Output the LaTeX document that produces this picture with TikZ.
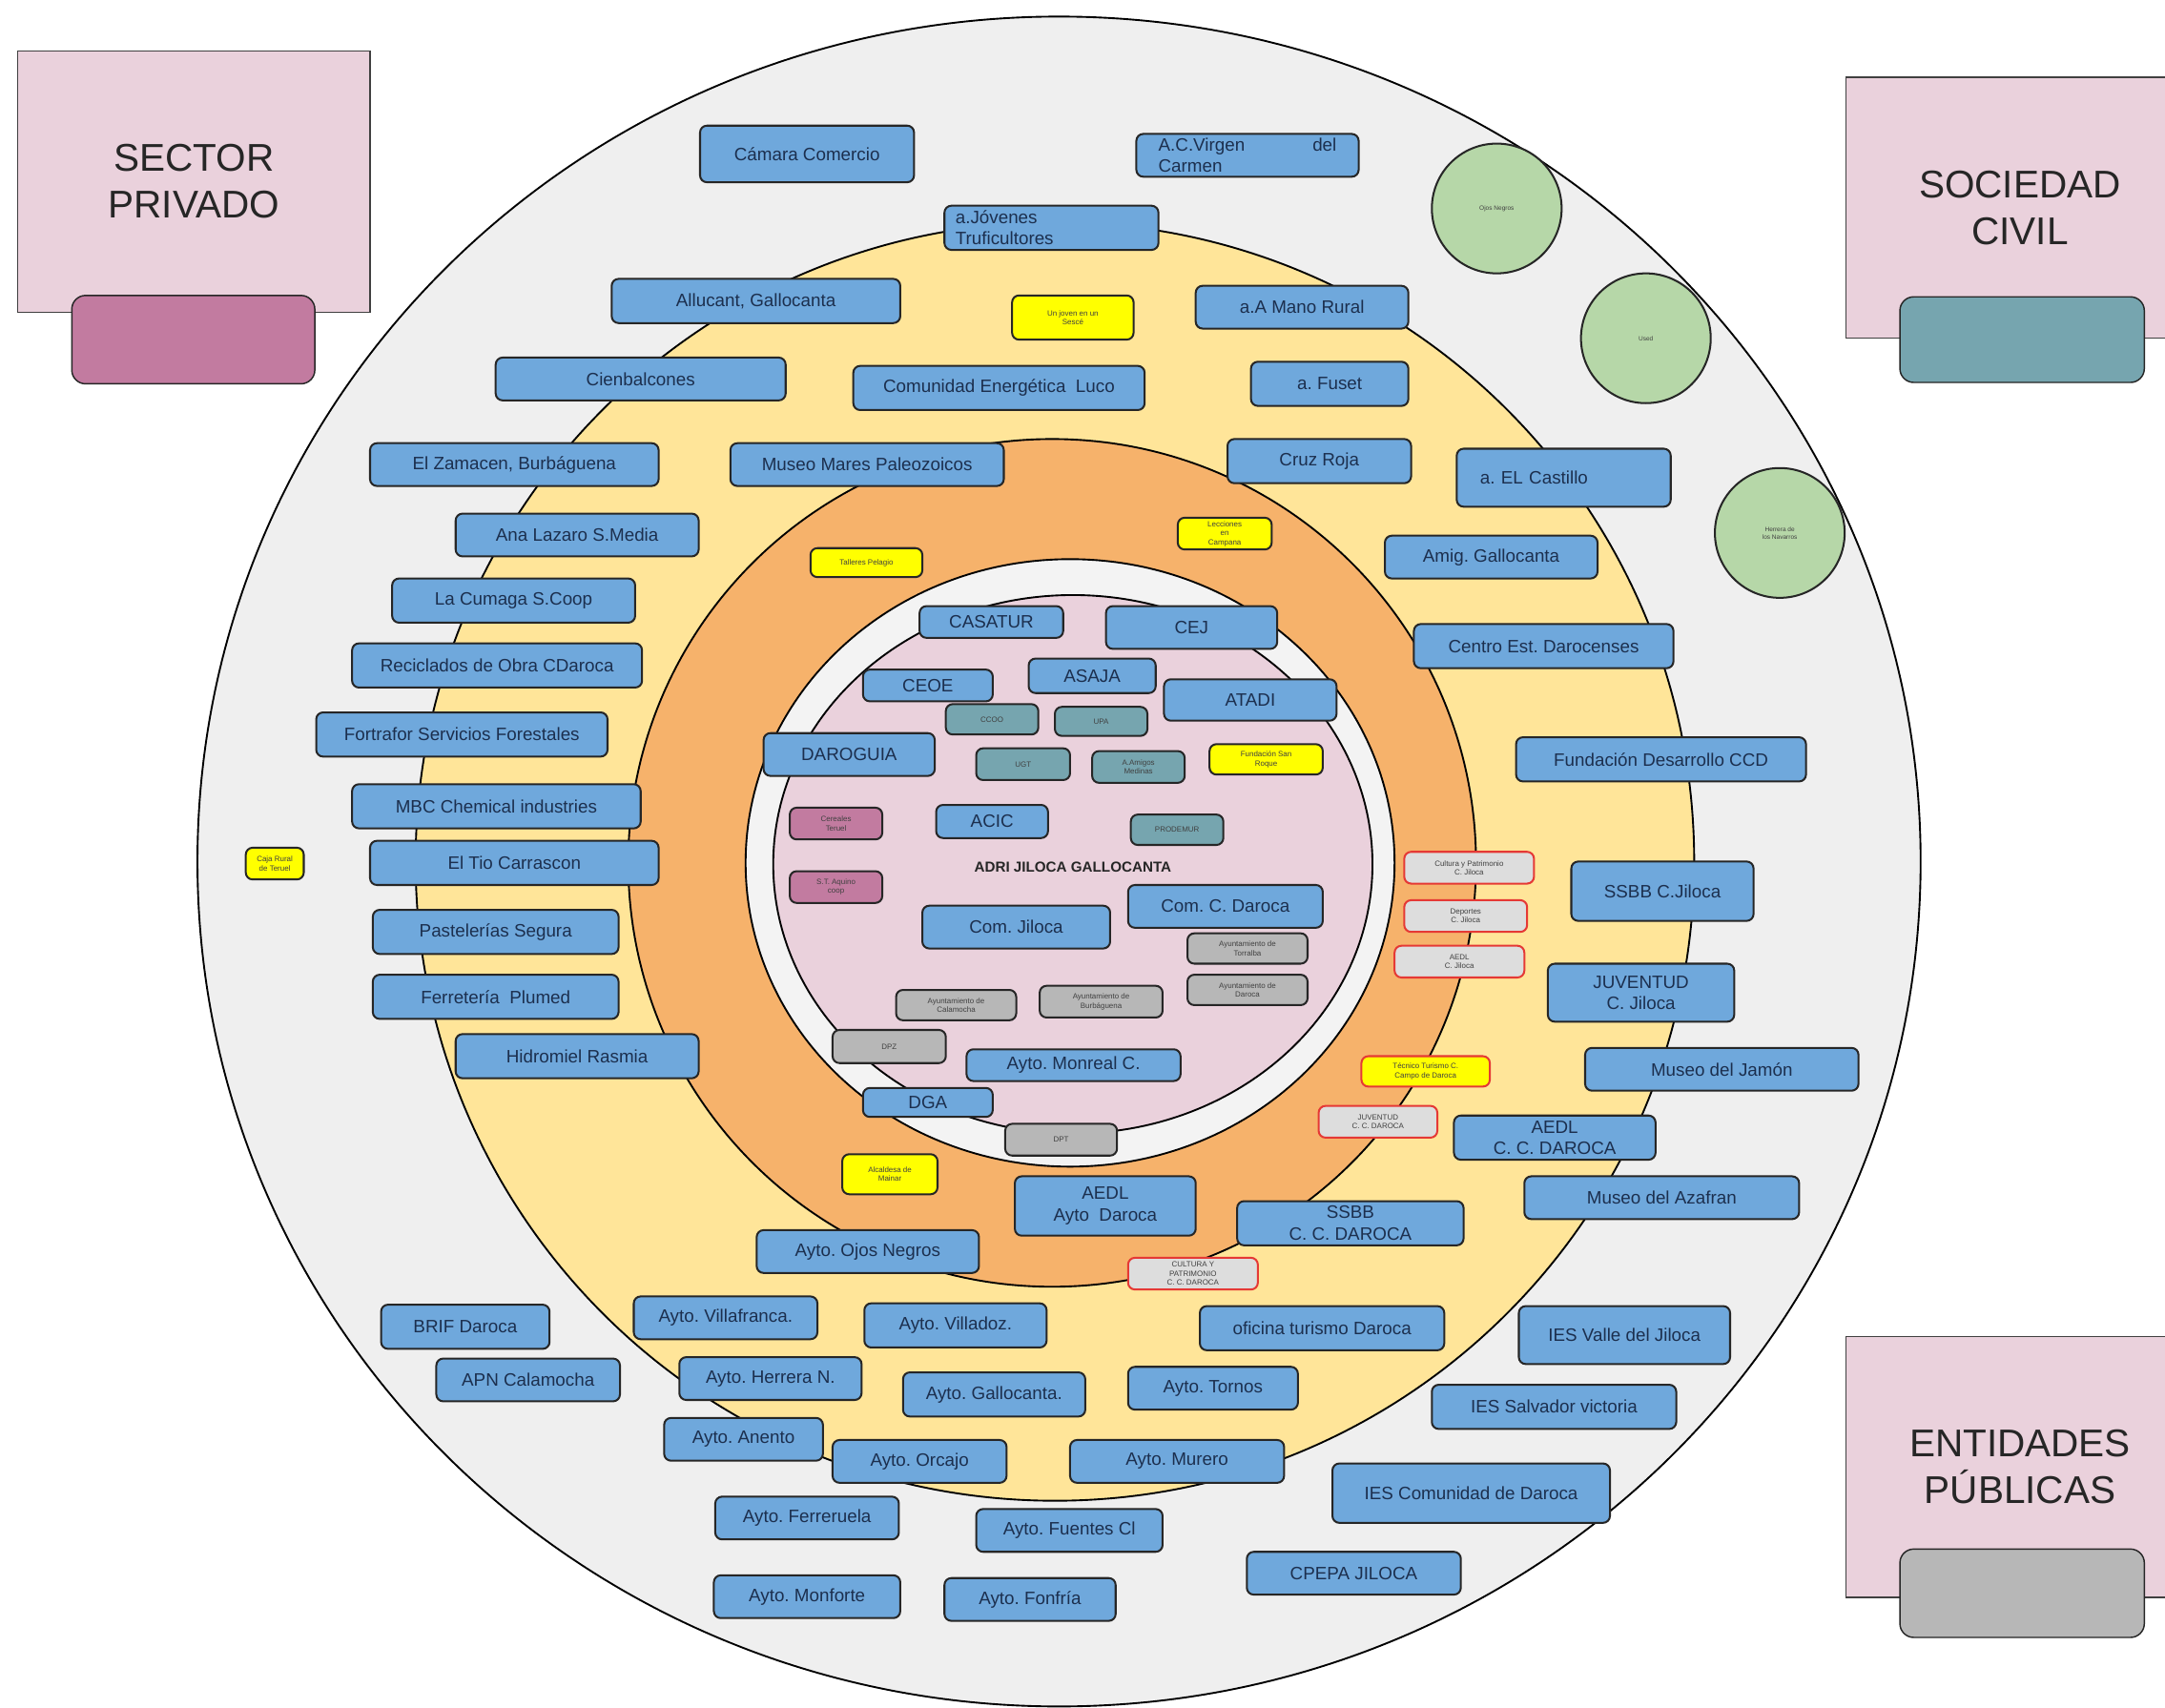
\documentclass[tikz,border=0pt]{standalone}
\usepackage{fontspec}
\setmainfont{Liberation Sans}
\frenchspacing
\definecolor{outerc}{HTML}{EFEFEF}
\definecolor{yellowring}{HTML}{FFE599}
\definecolor{orangering}{HTML}{F6B26B}
\definecolor{whitering}{HTML}{F3F3F3}
\definecolor{pinkc}{HTML}{EAD1DC}
\definecolor{bluef}{HTML}{6FA8DC}
\definecolor{bluet}{HTML}{1C2F4E}
\definecolor{tealf}{HTML}{76A5AF}
\definecolor{mauvef}{HTML}{C27BA0}
\definecolor{grayf}{HTML}{B7B7B7}
\definecolor{redf}{HTML}{DDDDDD}
\definecolor{redb}{HTML}{E53935}
\definecolor{greenf}{HTML}{B6D7A8}
\definecolor{yellowf}{HTML}{FFFF00}
\definecolor{legendf}{HTML}{EAD1DC}
\tikzset{
 ring/.style={draw=black, line width=1.3pt},
 boxbase/.style={draw=black!85, line width=1.4pt, rounded corners=5pt, inner sep=0pt, outer sep=0pt, align=center},
 bluebox/.style={boxbase, fill=bluef, text=bluet, font=\fontsize{13}{15.5}\selectfont},
 smallfont/.style={font=\fontsize{5.5}{6.5}\selectfont},
 tealbox/.style={boxbase, fill=tealf, text=black!75, smallfont},
 yellowbox/.style={boxbase, fill=yellowf, text=black!75, smallfont},
 mauvebox/.style={boxbase, fill=mauvef, text=black!75, smallfont},
 graybox/.style={boxbase, fill=grayf, text=black!75, smallfont},
 redbox/.style={boxbase, draw=redb, fill=redf, text=black!75, smallfont},
 tecbox/.style={boxbase, draw=redb, fill=yellowf, text=black!75, smallfont},
 greencirc/.style={circle, draw=black!85, line width=1.4pt, fill=greenf, minimum size=94pt, inner sep=0pt, align=center, font=\fontsize{4.5}{5.5}\selectfont, text=black!75},
 legend/.style={draw=black!75, line width=0.8pt, fill=legendf, inner sep=0pt, align=center, font=\fontsize{28}{34}\selectfont, text=black!85},
 tabbox/.style={draw=black!85, line width=1pt, rounded corners=10pt, inner sep=0pt},
}
\newcommand{\boxat}[7]{\node[#1, minimum width={(#4)-(#2)}, minimum height={(#5)-(#3)}] (#6) at ({((#2)+(#4))/2},{((#3)+(#5))/2}) {#7};}
\begin{document}
\begin{tikzpicture}[x=1pt,y=-1pt]
\useasboundingbox (0,0) rectangle (1568,1237);
\clip (0,0) rectangle (1568,1237);
\fill[white] (0,0) rectangle (1568,1237);
% rings
\draw[ring, fill=outerc] (767,624) ellipse [x radius=624pt, y radius=612pt];
\draw[ring, fill=yellowring] (764,624) circle [radius=463pt];
\draw[ring, fill=orangering] (762,625) circle [radius=307pt];
\draw[ring, fill=whitering] (775,625) ellipse [x radius=235pt, y radius=220pt];
\draw[ring, fill=pinkc] (777,626) ellipse [x radius=217pt, y radius=195pt];
% legends
\boxat{legend}{13}{37}{268}{226}{sp}{SECTOR\\PRIVADO}
\boxat{tabbox, fill=mauvef}{52}{214}{228}{278}{sptab}{}
\boxat{legend}{1337}{56}{1589}{245}{sc}{SOCIEDAD\\CIVIL}
\boxat{tabbox, fill=tealf}{1376}{215}{1553}{277}{sctab}{}
\boxat{legend}{1337}{968}{1589}{1157}{ep}{ENTIDADES\\PÚBLICAS}
\boxat{tabbox, fill=grayf}{1376}{1122}{1553}{1186}{eptab}{}
% green circles
\node[greencirc] (ojosc) at (1084,151) {Ojos Negros};
\node[greencirc] (usedc) at (1192,245) {Used};
\node[greencirc] (herrerac) at (1289,386) {Herrera de\\los Navarros};
% blue boxes outer
\boxat{bluebox}{507}{91}{662}{132}{camara}{Cámara Comercio}
\node[bluebox, minimum width=161, minimum height=31, text width=129, inner xsep=16pt, align=left] (virgen) at (903.5,112.5) {A.C.Virgen\hfill del\\Carmen};
\node[bluebox, minimum width=155, minimum height=32, text width=139, inner xsep=8pt, align=left] (jovenes) at (761.5,165) {a.Jóvenes\\Truficultores};
\boxat{bluebox}{443}{202}{652}{234}{allucant}{Allucant, Gallocanta}
\boxat{bluebox}{866}{207}{1020}{238}{amano}{a.A Mano Rural}
\boxat{bluebox}{359}{259}{569}{290}{cienb}{Cienbalcones}
\boxat{bluebox}{618}{265}{829}{297}{luco}{Comunidad Energética\ \ Luco}
\boxat{bluebox}{906}{262}{1020}{294}{fuset}{a. Fuset}
\boxat{bluebox}{268}{321}{477}{352}{zamacen}{El Zamacen, Burbáguena}
\boxat{bluebox}{529}{321}{727}{352}{mares}{Museo Mares Paleozoicos}
\boxat{bluebox}{889}{318}{1022}{350}{cruz}{Cruz Roja}
\node[bluebox, minimum width=155, minimum height=42, text width=121, inner xsep=17pt, align=left] (castillo) at (1132.5,346) {a. EL Castillo};
\boxat{bluebox}{330}{372}{506}{403}{lazaro}{Ana Lazaro S.Media}
\boxat{bluebox}{1003}{388}{1157}{419}{amig}{Amig. Gallocanta}
\boxat{bluebox}{284}{419}{460}{451}{cumaga}{La Cumaga S.Coop}
\boxat{bluebox}{1024}{452}{1212}{484}{centro}{Centro Est. Darocenses}
\boxat{bluebox}{255}{466}{465}{498}{recic}{Reciclados de Obra CDaroca}
\boxat{bluebox}{229}{516}{440}{548}{fortra}{Fortrafor Servicios Forestales}
\boxat{bluebox}{1098}{534}{1308}{566}{fundccd}{Fundación Desarrollo CCD}
\boxat{bluebox}{255}{568}{464}{600}{mbc}{MBC Chemical industries}
\boxat{bluebox}{268}{609}{477}{641}{tio}{El Tio Carrascon}
\boxat{bluebox}{1138}{624}{1270}{667}{ssbbj}{SSBB C.Jiloca}
\boxat{bluebox}{270}{659}{448}{691}{pastel}{Pastelerías Segura}
\boxat{bluebox}{1121}{698}{1256}{740}{juvj}{JUVENTUD\\C. Jiloca}
\boxat{bluebox}{270}{706}{448}{738}{plumed}{Ferretería\ \ Plumed}
\boxat{bluebox}{330}{749}{506}{781}{rasmia}{Hidromiel Rasmia}
\boxat{bluebox}{1148}{759}{1346}{790}{jamon}{Museo del Jamón}
\boxat{bluebox}{1053}{808}{1199}{840}{aedlccd}{AEDL\\C. C. DAROCA}
\boxat{bluebox}{1104}{852}{1303}{883}{azafran}{Museo del Azafran}
\boxat{bluebox}{735}{852}{866}{895}{aedlayto}{AEDL\\Ayto\ \ Daroca}
\boxat{bluebox}{896}{870}{1060}{902}{ssbbccd}{SSBB\\C. C. DAROCA}
\boxat{bluebox}{548}{891}{709}{922}{ojosn}{Ayto. Ojos Negros}
\boxat{bluebox}{276}{945}{398}{977}{brif}{BRIF Daroca}
\boxat{bluebox}{459}{939}{592}{970}{villaf}{Ayto. Villafranca.}
\boxat{bluebox}{626}{944}{758}{976}{villad}{Ayto. Villadoz.}
\boxat{bluebox}{869}{946}{1046}{978}{ofic}{oficina turismo Daroca}
\boxat{bluebox}{1100}{946}{1253}{988}{iesvalle}{IES Valle del Jiloca}
\boxat{bluebox}{316}{984}{449}{1015}{apn}{APN Calamocha}
\boxat{bluebox}{492}{983}{624}{1014}{herrn}{Ayto. Herrera N.}
\boxat{bluebox}{654}{994}{786}{1026}{gallo}{Ayto. Gallocanta.}
\boxat{bluebox}{817}{990}{940}{1021}{tornos}{Ayto. Tornos}
\boxat{bluebox}{1037}{1003}{1214}{1035}{iessalv}{IES Salvador victoria}
\boxat{bluebox}{481}{1027}{596}{1058}{anento}{Ayto. Anento}
\boxat{bluebox}{603}{1043}{729}{1074}{orcajo}{Ayto. Orcajo}
\boxat{bluebox}{775}{1043}{930}{1074}{murero}{Ayto. Murero}
\boxat{bluebox}{965}{1060}{1166}{1103}{iescom}{IES Comunidad de Daroca}
\boxat{bluebox}{518}{1084}{651}{1115}{ferre}{Ayto. Ferreruela}
\boxat{bluebox}{707}{1093}{842}{1124}{fuentes}{Ayto. Fuentes Cl}
\boxat{bluebox}{903}{1124}{1058}{1155}{cpepa}{CPEPA JILOCA}
\boxat{bluebox}{517}{1141}{652}{1172}{monforte}{Ayto. Monforte}
\boxat{bluebox}{684}{1143}{808}{1174}{fonfria}{Ayto. Fonfría}
% inner blue
\boxat{bluebox}{666}{439}{770}{462}{casatur}{CASATUR}
\boxat{bluebox}{801}{439}{925}{470}{cej}{CEJ}
\boxat{bluebox}{625}{485}{719}{508}{ceoe}{CEOE}
\boxat{bluebox}{745}{477}{837}{502}{asaja}{ASAJA}
\boxat{bluebox}{843}{492}{968}{522}{atadi}{ATADI}
\boxat{bluebox}{553}{531}{677}{562}{darog}{DAROGUIA}
\boxat{bluebox}{678}{583}{759}{607}{acic}{ACIC}
\boxat{bluebox}{668}{656}{804}{687}{comj}{Com. Jiloca}
\boxat{bluebox}{817}{641}{958}{672}{comcd}{Com. C. Daroca}
\boxat{bluebox}{700}{760}{855}{783}{monreal}{Ayto. Monreal C.}
\boxat{bluebox}{625}{788}{719}{809}{dga}{DGA}
% teal
\boxat{tealbox}{685}{510}{752}{532}{ccoo}{CCOO}
\boxat{tealbox}{764}{512}{831}{533}{upa}{UPA}
\boxat{tealbox}{707}{542}{775}{565}{ugt}{UGT}
\boxat{tealbox}{791}{544}{858}{567}{amigos}{A.Amigos\\Medinas}
\boxat{tealbox}{819}{590}{886}{612}{prodemur}{PRODEMUR}
% yellow
\boxat{yellowbox}{733}{214}{821}{246}{joven}{Un joven en un\\Sescé}
\boxat{yellowbox}{587}{397}{668}{418}{talleres}{Talleres Pelagio}
\boxat{yellowbox}{853}{375}{921}{398}{lecciones}{Lecciones\\en\\Campana}
\boxat{yellowbox}{876}{539}{958}{561}{sanroque}{Fundación San\\Roque}
\boxat{yellowbox}{178}{614}{220}{637}{caja}{Caja Rural\\de Teruel}
\boxat{yellowbox}{610}{836}{679}{865}{alcaldesa}{Alcaldesa de\\Mainar}
\boxat{tecbox}{986}{765}{1079}{787}{tecnico}{Técnico Turismo C.\\Campo de Daroca}
% mauve
\boxat{mauvebox}{572}{585}{639}{608}{cereales}{Cereales\\Teruel}
\boxat{mauvebox}{572}{631}{639}{654}{aquino}{S.T. Aquino\\coop}
% gray
\boxat{graybox}{860}{676}{947}{698}{torralba}{Ayuntamiento de\\Torralba}
\boxat{graybox}{860}{706}{947}{728}{aytodaroca}{Ayuntamiento de\\Daroca}
\boxat{graybox}{649}{717}{736}{739}{calamocha}{Ayuntamiento de\\Calamocha}
\boxat{graybox}{753}{714}{842}{737}{burba}{Ayuntamiento de\\Burbáguena}
\boxat{graybox}{603}{746}{685}{770}{dpz}{DPZ}
\boxat{graybox}{728}{814}{809}{837}{dpt}{DPT}
% red-bordered
\boxat{redbox}{1017}{617}{1111}{640}{culturaj}{Cultura y Patrimonio\\C. Jiloca}
\boxat{redbox}{1017}{652}{1106}{675}{deportes}{Deportes\\C. Jiloca}
\boxat{redbox}{1010}{685}{1104}{708}{aedlj}{AEDL\\C. Jiloca}
\boxat{redbox}{955}{801}{1041}{824}{juvccd}{JUVENTUD\\C. C. DAROCA}
\boxat{redbox}{817}{911}{911}{934}{culturaccd}{CULTURA Y\\PATRIMONIO\\C. C. DAROCA}
% centre label
\node[font=\bfseries\fontsize{10.5}{12}\selectfont, text=black!85] (adri) at (777,628) {ADRI JILOCA GALLOCANTA};
\end{tikzpicture}
\end{document}
